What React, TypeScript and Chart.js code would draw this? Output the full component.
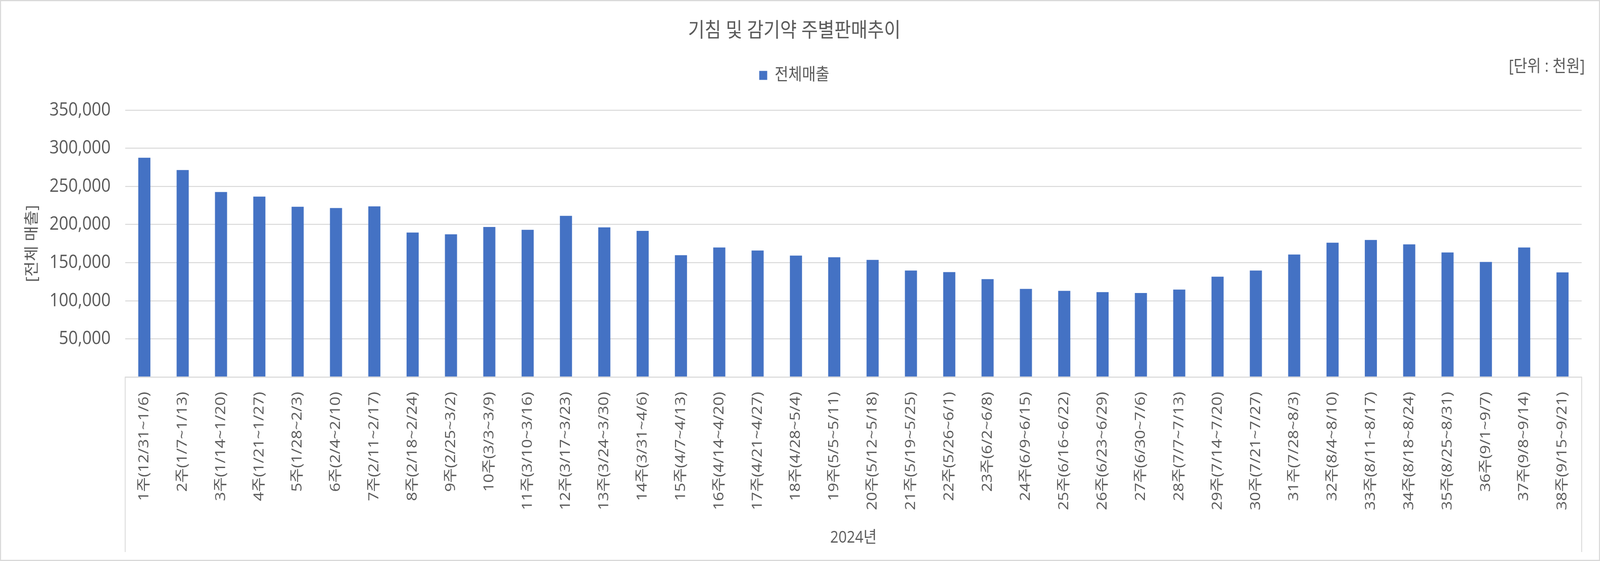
import React, { useEffect, useRef, useState } from 'react';
import { Chart, registerables, layouts } from 'chart.js';

Chart.register(...registerables);

// ---------------- data ----------------
const chartTitle = '기침 및 감기약 주별판매추이';
const seriesName = '전체매출';
const yAxisTitle = '[전체 매출]';
const groupLabel = '2024년';
const unitLabel = '[단위 : 천원]';

const weeks = [
  '1주(12/31~1/6)', '2주(1/7~1/13)', '3주(1/14~1/20)', '4주(1/21~1/27)',
  '5주(1/28~2/3)', '6주(2/4~2/10)', '7주(2/11~2/17)', '8주(2/18~2/24)',
  '9주(2/25~3/2)', '10주(3/3~3/9)', '11주(3/10~3/16)', '12주(3/17~3/23)',
  '13주(3/24~3/30)', '14주(3/31~4/6)', '15주(4/7~4/13)', '16주(4/14~4/20)',
  '17주(4/21~4/27)', '18주(4/28~5/4)', '19주(5/5~5/11)', '20주(5/12~5/18)',
  '21주(5/19~5/25)', '22주(5/26~6/1)', '23주(6/2~6/8)', '24주(6/9~6/15)',
  '25주(6/16~6/22)', '26주(6/23~6/29)', '27주(6/30~7/6)', '28주(7/7~7/13)',
  '29주(7/14~7/20)', '30주(7/21~7/27)', '31주(7/28~8/3)', '32주(8/4~8/10)',
  '33주(8/11~8/17)', '34주(8/18~8/24)', '35주(8/25~8/31)', '36주(9/1~9/7)',
  '37주(9/8~9/14)', '38주(9/15~9/21)',
];

const sales = [
  287600, 271400, 242600, 236600, 223300, 221600, 223800, 189400,
  187200, 196700, 193000, 211400, 196200, 191600, 159700, 169800,
  165900, 159200, 157000, 153600, 139600, 137600, 128400, 115600,
  113000, 111300, 110100, 114700, 131600, 139600, 160600, 176100,
  179700, 173900, 163300, 150900, 169800, 137200,
];

const yMin = 0;
const yMax = 350000;
const yStep = 50000;

// ---------------- styling ----------------
const W = 4627;
const H = 1436;
const FONT = "'Open Sans', 'Noto Sans CJK KR', sans-serif";
const TEXT = '#595959';
const GRID = '#d9d9d9';
const BAR = '#4472C4';
const LEGEND_GAP = 57.5;

const framePlugin = {
  id: 'excelFrame',
  beforeInit(chart: any) {
    const spacer: any = {
      id: 'legendGap',
      position: 'top',
      weight: 0,
      fullSize: true,
      options: {},
      left: 0, top: 0, right: 0, bottom: 0, width: 0, height: 0,
      isHorizontal() { return true; },
      update(maxWidth: number) { this.width = maxWidth; this.height = LEGEND_GAP; },
      draw() {},
    };
    layouts.addBox(chart, spacer);
  },
  beforeDraw(chart: any) {
    const ctx = chart.ctx;
    ctx.save();
    ctx.fillStyle = '#ffffff';
    ctx.fillRect(0, 0, chart.width, chart.height);
    ctx.restore();
  },
  afterDraw(chart: any) {
    const ctx = chart.ctx;
    const x = chart.scales.x;
    const area = chart.chartArea;
    ctx.save();
    ctx.strokeStyle = GRID;
    ctx.lineWidth = 2.5;
    ctx.beginPath();
    ctx.moveTo(x.left, x.top);
    ctx.lineTo(x.left, x.bottom - 3);
    ctx.moveTo(x.right, x.top);
    ctx.lineTo(x.right, x.bottom - 3);
    ctx.stroke();
    ctx.lineWidth = 3;
    ctx.strokeRect(1.5, 1.5, chart.width - 3, chart.height - 3);
    ctx.fillStyle = TEXT;
    ctx.font = `43px ${FONT}`;
    ctx.textAlign = 'right';
    ctx.textBaseline = 'middle';
    ctx.fillText(unitLabel, area.right + 9, 172);
    ctx.restore();
  },
};

export default function App() {
  const ref = useRef<HTMLCanvasElement | null>(null);
  const [view] = useState(() => ({
    w: (typeof window !== 'undefined' && window.innerWidth) || W,
    h: (typeof window !== 'undefined' && window.innerHeight) || H,
  }));

  useEffect(() => {
    if (!ref.current) return;
    const chart = new Chart(ref.current, {
      type: 'bar',
      data: {
        labels: weeks,
        datasets: [
          {
            label: seriesName,
            data: sales,
            backgroundColor: BAR,
            borderColor: BAR,
            borderWidth: 0,
            categoryPercentage: 1,
            barPercentage: 0.316,
          },
        ],
      },
      options: {
        animation: false,
        responsive: false,
        devicePixelRatio: 1,
        layout: { padding: { top: 20, left: 20, right: 53, bottom: 20 } },
        plugins: {
          title: {
            display: true,
            text: chartTitle,
            color: TEXT,
            font: { family: FONT, size: 52, weight: 'normal', lineHeight: 1.2 },
            padding: { top: 29, bottom: 50 },
          },
          legend: {
            display: true,
            position: 'top',
            labels: {
              color: TEXT,
              font: { family: FONT, size: 43 },
              boxWidth: 23,
              boxHeight: 23,
              padding: 10,
            },
          },
          tooltip: { enabled: false },
        },
        scales: {
          x: {
            grid: { display: false },
            border: { display: true, color: GRID, width: 2.5 },
            ticks: {
              color: TEXT,
              font: { family: FONT, size: 41 },
              autoSkip: false,
              maxRotation: 90,
              minRotation: 90,
              padding: 30,
            },
            title: {
              display: true,
              text: groupLabel,
              color: TEXT,
              font: { family: FONT, size: 42 },
              padding: { top: 0, bottom: 14 },
            },
            afterFit(scale: any) { scale.height = 451; },
          },
          y: {
            min: yMin,
            max: yMax,
            grid: { color: GRID, lineWidth: 2.5, drawTicks: false },
            border: { display: false },
            ticks: {
              stepSize: yStep,
              color: TEXT,
              font: { family: FONT, size: 48 },
              padding: 42,
              callback: (v: any) => (Number(v) === 0 ? '' : Number(v).toLocaleString('en-US')),
            },
            title: {
              display: true,
              text: yAxisTitle,
              color: TEXT,
              font: { family: FONT, size: 43 },
              padding: { top: 48, bottom: 0 },
            },
            afterFit(scale: any) { scale.width = 342; },
          },
        },
      },
      plugins: [framePlugin],
    } as any);
    return () => chart.destroy();
  }, []);

  return (
    <div style={{ position: 'fixed', left: 0, top: 0, width: view.w, height: view.h, background: '#fff', overflow: 'hidden' }}>
      <canvas
        ref={ref}
        width={W}
        height={H}
        style={{ width: `${view.w}px`, height: `${view.h}px`, display: 'block' }}
      />
    </div>
  );
}
